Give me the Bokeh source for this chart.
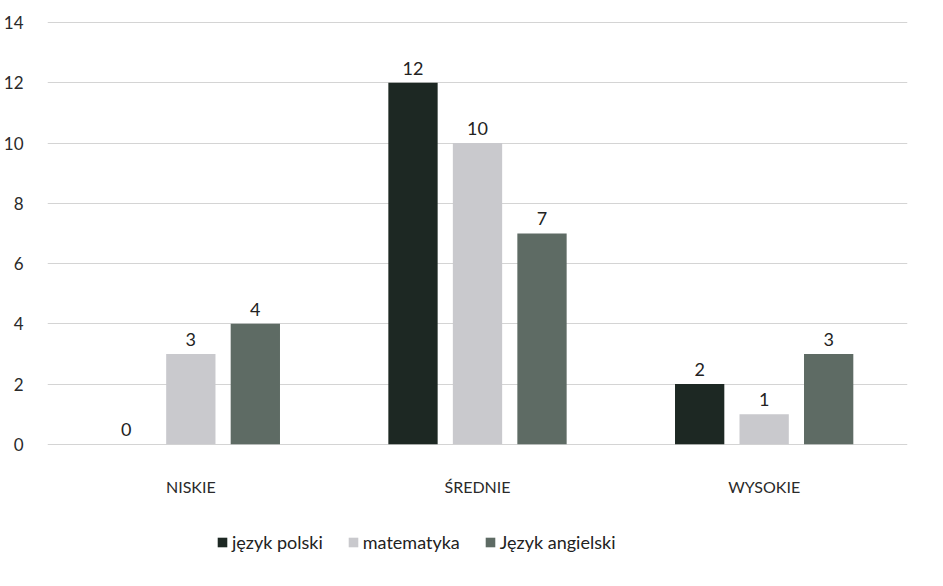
from bokeh.plotting import figure
from bokeh.models import ColumnDataSource, FactorRange, Range1d, Legend, LegendItem, FixedTicker
from bokeh.transform import dodge
from bokeh.core.properties import value
from bokeh.embed import file_html
from bokeh.resources import INLINE

categories = ["NISKIE", "ŚREDNIE", "WYSOKIE"]
series_names = ["język polski", "matematyka", "Język angielski"]
polski = [0, 12, 2]
matematyka = [3, 10, 1]
angielski = [4, 7, 3]
y_ticks = [0, 2, 4, 6, 8, 10, 12, 14]

colors = ["#1d2823", "#c9c9cd", "#5e6b64"]
offsets = [-0.225, 0.0, 0.225]
bar_w = 0.172
FONT = "Lato"

source = ColumnDataSource(dict(
    cat=categories,
    base=[0, 0, 0],
    polski=polski,
    matematyka=matematyka,
    angielski=angielski,
    polski_lbl=[str(v) for v in polski],
    matematyka_lbl=[str(v) for v in matematyka],
    angielski_lbl=[str(v) for v in angielski],
))

p = figure(width=927, height=570, output_backend="svg", toolbar_location=None,
           x_range=FactorRange(*categories, range_padding=0),
           y_range=Range1d(-4.19, 14.4),
           min_border=0,
           min_border_left=43, min_border_right=20, min_border_top=10, min_border_bottom=0)
p.outline_line_color = None

items = []
for key, name, col, off in zip(["polski", "matematyka", "angielski"], series_names, colors, offsets):
    r = p.vbar(x=dodge("cat", off, range=p.x_range), top=key, bottom="base", width=bar_w,
               source=source, fill_color=col, line_color=None)
    p.text(x=dodge("cat", off, range=p.x_range), y=key, text=key + "_lbl", source=source,
           text_align="center", text_baseline="bottom", y_offset=-8,
           text_font=value(FONT), text_font_size="18px", text_color="#222222")
    items.append(LegendItem(label=name, renderers=[r]))

# category labels under the bars
p.text(x="cat", y="base", text="cat", source=source, text_align="center",
       text_baseline="middle", y_offset=42, text_font=value(FONT),
       text_font_size="16px", text_color="#2a2a2a")

p.xgrid.grid_line_color = None
p.ygrid.grid_line_color = "#d4d4d4"
p.ygrid.grid_line_width = 1

p.yaxis.ticker = FixedTicker(ticks=y_ticks)
p.yaxis.axis_line_color = None
p.yaxis.major_tick_line_color = None
p.yaxis.minor_tick_line_color = None
p.yaxis.major_label_standoff = 18
p.yaxis.major_label_text_font = FONT
p.yaxis.major_label_text_font_size = "17px"
p.yaxis.major_label_text_color = "#2a2a2a"

p.xaxis.visible = False

legend = Legend(items=items, orientation="horizontal", location=(169, 17),
                label_text_font=FONT, label_text_font_size="18px", label_text_color="#222222",
                glyph_width=12, glyph_height=12, spacing=24, label_standoff=4,
                border_line_color=None, background_fill_alpha=0, margin=0, padding=2)
p.add_layout(legend, "center")

open("out.html", "w").write(file_html(p, INLINE))
